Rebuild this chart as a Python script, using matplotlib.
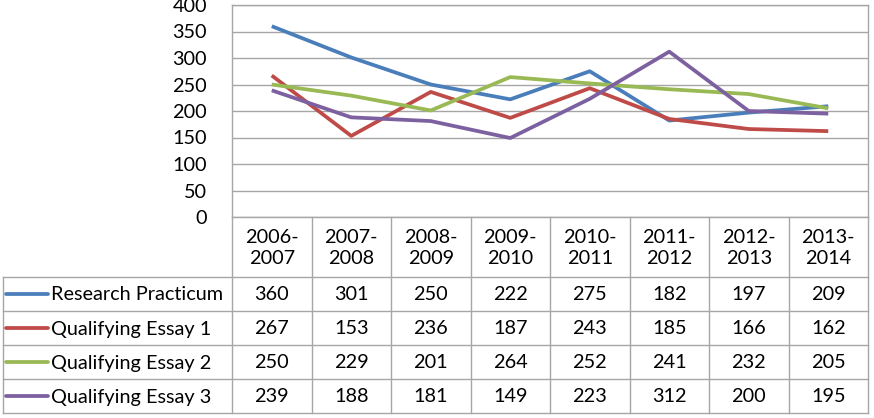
import matplotlib
matplotlib.use("Agg")
import matplotlib.pyplot as plt
import numpy as np

# data
years = ["2006-\n2007", "2007-\n2008", "2008-\n2009", "2009-\n2010",
         "2010-\n2011", "2011-\n2012", "2012-\n2013", "2013-\n2014"]
series_names = ["Research Practicum", "Qualifying Essay 1",
                "Qualifying Essay 2", "Qualifying Essay 3"]
research_practicum = [360, 301, 250, 222, 275, 182, 197, 209]
qualifying_essay_1 = [267, 153, 236, 187, 243, 185, 166, 162]
qualifying_essay_2 = [250, 229, 201, 264, 252, 241, 232, 205]
qualifying_essay_3 = [239, 188, 181, 149, 223, 312, 200, 195]
colors = ["#4a7ebb", "#be4b48", "#98b954", "#7d60a0"]

plt.rcParams["font.family"] = ["Lato", "DejaVu Sans"]
W, H = 874, 418
grid_c = "#a6a6a6"
fs = 14.3

fig = plt.figure(figsize=(W / 100, H / 100), dpi=100)

# layout in pixels
x0, x1 = 232, 868
y_top, y_zero = 5, 217
table_left = 3
row_edges = [217, 277, 311, 345, 379, 413]

ax = fig.add_axes([x0 / W, 1 - y_zero / H, (x1 - x0) / W, (y_zero - y_top) / H])
x = np.arange(len(years))
all_series = [research_practicum, qualifying_essay_1, qualifying_essay_2, qualifying_essay_3]
for vals, c in zip(all_series, colors):
    ax.plot(x, vals, color=c, lw=2.7, solid_capstyle="butt", zorder=3)
ax.set_xlim(-0.5, len(years) - 0.5)
ax.set_ylim(0, 400)
ax.set_yticks(np.arange(0, 401, 50))
ax.set_xticks([])
ax.yaxis.grid(True, color=grid_c, lw=1)
ax.tick_params(axis="y", length=0, labelsize=fs, pad=18)
for s in ax.spines.values():
    s.set_color(grid_c)
    s.set_linewidth(1)
ax.spines["bottom"].set_visible(False)

# data table drawn on an overlay in pixel coords
tx = fig.add_axes([0, 0, 1, 1])
tx.set_xlim(0, W)
tx.set_ylim(H, 0)
tx.axis("off")
tx.patch.set_alpha(0)

col_w = (x1 - x0) / len(years)
col_edges = [x0 + i * col_w for i in range(len(years) + 1)]
# horizontal lines
tx.plot([x0, x1], [row_edges[0]] * 2, color=grid_c, lw=1)
for ry in row_edges[1:]:
    tx.plot([table_left, x1], [ry, ry], color=grid_c, lw=1)
# vertical lines
for cx in col_edges:
    tx.plot([cx, cx], [row_edges[0], row_edges[-1]], color=grid_c, lw=1)
tx.plot([table_left, table_left], [row_edges[1], row_edges[-1]], color=grid_c, lw=1)

# header
for i, yr in enumerate(years):
    tx.text(col_edges[i] + col_w / 2, (row_edges[0] + row_edges[1]) / 2 + 1, yr,
            ha="center", va="center", fontsize=fs, linespacing=1.35)

# rows
for r, (name, vals, c) in enumerate(zip(series_names, all_series, colors)):
    yc = (row_edges[r + 1] + row_edges[r + 2]) / 2
    tx.plot([6, 48], [yc, yc], color=c, lw=2.7, solid_capstyle="round")
    tx.text(51, yc + 1, name, ha="left", va="center", fontsize=fs)
    for i, v in enumerate(vals):
        tx.text(col_edges[i] + col_w / 2, yc + 1, str(v), ha="center", va="center", fontsize=fs)

fig.savefig("out.png", dpi=100)
